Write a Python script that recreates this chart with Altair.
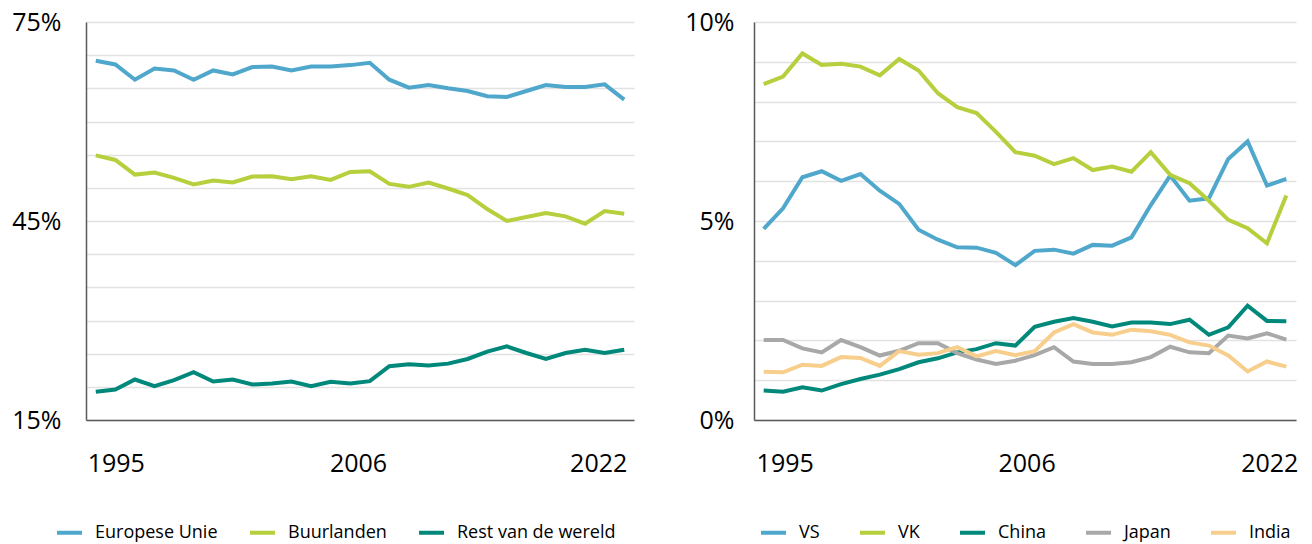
import altair as alt
import pandas as pd

years = list(range(1995, 2023))

left_names = ["Europese Unie", "Buurlanden", "Rest van de wereld"]
left_colors = ["#4FA7CC", "#B5CF3D", "#00897B"]
eu = [69.15, 68.6, 66.3, 68.0, 67.7, 66.3, 67.7, 67.1, 68.2, 68.3, 67.7, 68.3, 68.3, 68.5,
      68.85, 66.3, 65.1, 65.5, 65.0, 64.6, 63.8, 63.7, 64.6, 65.5, 65.2, 65.2, 65.6, 63.3]
buur = [54.9, 54.2, 52.0, 52.3, 51.5, 50.5, 51.1, 50.8, 51.7, 51.75, 51.3, 51.75, 51.2, 52.4,
        52.5, 50.6, 50.15, 50.8, 49.9, 48.9, 46.8, 45.0, 45.6, 46.2, 45.7, 44.6, 46.5, 46.1]
rest = [19.25, 19.6, 21.1, 20.1, 21.0, 22.2, 20.8, 21.1, 20.35, 20.5, 20.8, 20.1, 20.75, 20.5,
        20.85, 23.1, 23.4, 23.2, 23.5, 24.2, 25.3, 26.1, 25.1, 24.2, 25.1, 25.6, 25.1, 25.6]

right_names = ["VS", "VK", "China", "Japan", "India"]
right_colors = ["#4FA7CC", "#B5CF3D", "#00897B", "#A8A8A8", "#F8CE8C"]
vs = [4.80, 5.32, 6.10, 6.25, 6.01, 6.18, 5.76, 5.43, 4.78, 4.53, 4.34, 4.33, 4.20, 3.89,
      4.25, 4.28, 4.18, 4.40, 4.38, 4.59, 5.40, 6.14, 5.51, 5.57, 6.56, 7.00, 5.89, 6.06]
vk = [8.44, 8.63, 9.21, 8.92, 8.95, 8.88, 8.66, 9.07, 8.78, 8.21, 7.86, 7.71, 7.24, 6.73,
      6.64, 6.43, 6.58, 6.28, 6.37, 6.24, 6.73, 6.16, 5.95, 5.51, 5.03, 4.82, 4.44, 5.64]
china = [0.74, 0.71, 0.82, 0.74, 0.90, 1.03, 1.14, 1.28, 1.45, 1.55, 1.70, 1.78, 1.93, 1.87,
         2.34, 2.47, 2.56, 2.47, 2.35, 2.45, 2.45, 2.41, 2.52, 2.14, 2.33, 2.87, 2.49, 2.48]
japan = [2.01, 2.01, 1.80, 1.70, 2.01, 1.83, 1.62, 1.74, 1.93, 1.93, 1.68, 1.52, 1.41, 1.49,
         1.63, 1.83, 1.47, 1.41, 1.41, 1.45, 1.58, 1.84, 1.70, 1.68, 2.12, 2.05, 2.18, 2.02]
india = [1.21, 1.20, 1.39, 1.36, 1.58, 1.56, 1.36, 1.73, 1.64, 1.68, 1.83, 1.60, 1.73, 1.63,
         1.73, 2.20, 2.41, 2.20, 2.14, 2.27, 2.23, 2.14, 1.95, 1.87, 1.62, 1.22, 1.47, 1.34]

year_ticks = [1995, 2006, 2022]
FONT = "Open Sans"


def long_df(names, arrays):
    rows = []
    for name, arr in zip(names, arrays):
        for yr, v in zip(years, arr):
            rows.append({"jaar": yr, "serie": name, "waarde": v})
    return pd.DataFrame(rows)


def panel(df, names, colors, ydom, ystep, label_every, w, h, yext, ypad,
          offsets, legend_x, legend_y, colpad):
    yvals = list(range(ydom[0], ydom[1] + 1, ystep))
    rem = ydom[0] % label_every
    x = alt.X(
        "jaar:O",
        scale=alt.Scale(type="point", padding=0.5),
        axis=alt.Axis(
            values=year_ticks, title=None, labelAngle=0, ticks=False, tickSize=0,
            domain=True, domainColor="#595959", domainWidth=1.5, grid=False,
            labelFont=FONT, labelFontSize=25, labelColor="#000000", labelPadding=31,
            labelOverlap=False, labelFlush=False, labelBound=False,
            labelOffset={"condition": [
                {"test": "datum.value == 1995", "value": offsets[0]},
                {"test": "datum.value == 2006", "value": offsets[1]}],
                "value": offsets[2]},
        ),
    )
    y = alt.Y(
        "waarde:Q",
        scale=alt.Scale(domain=ydom, nice=False, zero=False),
        axis=alt.Axis(
            values=yvals, title=None, ticks=False, tickSize=0,
            labelExpr=f"datum.value % {label_every} == {rem} ? datum.value + '%' : ''",
            domain=True, domainColor="#595959", domainWidth=1.5,
            grid=True, gridColor="#E2E2E2", gridWidth=1.5,
            labelFont=FONT, labelFontSize=25, labelColor="#000000", labelPadding=ypad,
            labelOverlap=False, minExtent=yext, maxExtent=yext,
        ),
    )
    color = alt.Color(
        "serie:N",
        scale=alt.Scale(domain=names, range=colors),
        legend=alt.Legend(
            orient="none", legendX=legend_x, legendY=legend_y, direction="horizontal",
            columns=len(names), title=None, symbolType="stroke", symbolSize=625,
            symbolStrokeWidth=4, labelFont=FONT, labelFontSize=18, labelColor="#000000",
            labelOffset=11, columnPadding=colpad, padding=0, labelLimit=300,
        ),
    )
    return (
        alt.Chart(df)
        .mark_line(strokeWidth=4)
        .encode(x=x, y=y, color=color, detail="serie:N")
        .properties(width=w, height=h)
    )


left = panel(long_df(left_names, [eu, buur, rest]), left_names, left_colors,
             [15, 75], 5, 30, 548, 398, 78, 25, [20, 47, -26], -31, 496, 24)
right = panel(long_df(right_names, [vs, vk, china, japan, india]), right_names, right_colors,
              [0, 10], 1, 5, 542, 398, 70, 20, [21, 50, -17], 5, 496, 32)

chart = (
    alt.hconcat(left, right, spacing=50)
    .resolve_scale(color="independent", x="independent", y="independent")
    .resolve_legend(color="independent")
    .properties(padding={"left": 0, "top": 2, "right": 0, "bottom": 3})
    .configure_view(stroke=None)
)

chart.save("out.html", embed_options={"renderer": "svg", "actions": False})
